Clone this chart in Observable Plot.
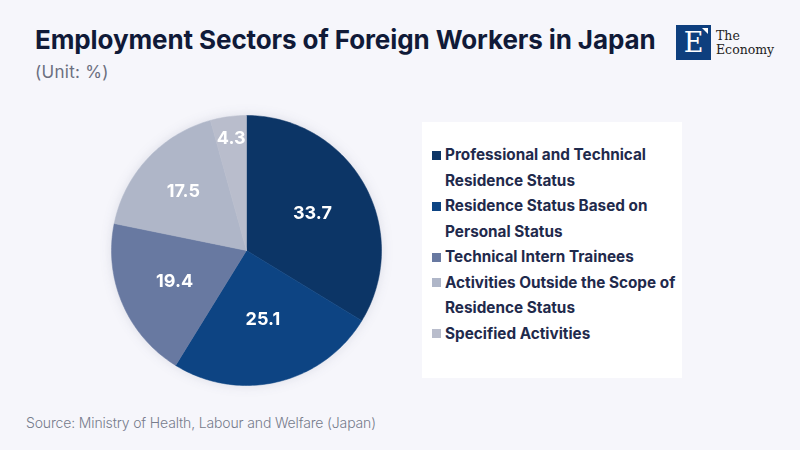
<!DOCTYPE html>
<html>
<head>
<meta charset="utf-8">
<script src="https://cdn.jsdelivr.net/npm/d3@7"></script>
<script src="https://cdn.jsdelivr.net/npm/@observablehq/plot@0.6"></script>
<style>
  html, body { margin: 0; padding: 0; }
  body { width: 800px; height: 450px; background: #f6f6fb; font-family: Inter, "Noto Sans", sans-serif; position: relative; overflow: hidden; }
  #title { position: absolute; left: 35px; top: 24px; font-size: 26px; font-weight: 700; color: #101a38; letter-spacing: -0.1px; white-space: nowrap; }
  #subtitle { position: absolute; left: 35px; top: 62px; font-size: 17px; color: #6b6f80; letter-spacing: 0.3px; }
  #source { position: absolute; left: 26px; top: 414px; font-size: 14px; color: #777c8c; font-weight: 300; letter-spacing: -0.15px; }
  #chart { position: absolute; left: 95.5px; top: 99.5px; filter: drop-shadow(0 0 6px rgba(40,50,90,0.12)); }
  #legend { position: absolute; left: 422px; top: 122px; width: 260px; height: 256px; background: #ffffff; box-sizing: border-box; padding: 20px 0 0 10px; }
  .item { display: flex; align-items: flex-start; font-size: 15.3px; font-weight: 700; color: #1f2a4c; line-height: 25.5px; white-space: nowrap; }
  .sw { width: 9px; height: 9px; margin: 8.5px 4px 0 0; flex: none; }
  #logo { position: absolute; left: 676px; top: 25px; width: 35px; height: 35px; background: #0e3f7e; color: #fff; font-family: "DejaVu Serif", serif; font-size: 27px; text-align: center; line-height: 36px; }
  #logo::after { content: ""; position: absolute; right: 3px; top: 3px; width: 0; height: 0; border-left: 6px solid transparent; border-top: 6px solid #fff; }
  #logotext { position: absolute; left: 716px; top: 29px; font-family: "DejaVu Serif", "Liberation Serif", serif; font-size: 12.5px; line-height: 13.5px; color: #222; }
</style>
</head>
<body>
<div id="title">Employment Sectors of Foreign Workers in Japan</div>
<div id="subtitle">(Unit: %)</div>
<div id="logo">E</div>
<div id="logotext">The<br>Economy</div>
<div id="chart"></div>
<div id="legend"></div>
<div id="source">Source: Ministry of Health, Labour and Welfare (Japan)</div>
<script>
const categories = [
  "Professional and Technical Residence Status",
  "Residence Status Based on Personal Status",
  "Technical Intern Trainees",
  "Activities Outside the Scope of Residence Status",
  "Specified Activities"
];
const legendLabels = [
  ["Professional and Technical", "Residence Status"],
  ["Residence Status Based on", "Personal Status"],
  ["Technical Intern Trainees"],
  ["Activities Outside the Scope of", "Residence Status"],
  ["Specified Activities"]
];
const values = [33.7, 25.1, 19.4, 17.5, 4.3];
const colors = ["#0c3566", "#0d4483", "#6879a1", "#afb6c8", "#b9bdcc"];
// label distance from centre (fraction of radius), a layout setting
const labelRadius = [0.56, 0.52, 0.58, 0.64, 0.84];

const arcs = d3.pie().sort(null).value(d => d)(values);
const slices = [];
arcs.forEach((a, i) => {
  const n = Math.max(2, Math.ceil((a.endAngle - a.startAngle) / 0.02));
  slices.push({cat: categories[i], x: 0, y: 0});
  for (let k = 0; k <= n; k++) {
    const t = a.startAngle + (a.endAngle - a.startAngle) * k / n;
    slices.push({cat: categories[i], x: Math.sin(t), y: Math.cos(t)});
  }
  slices.push({cat: categories[i], x: 0, y: 0});
});
const labels = arcs.map((a, i) => {
  const m = (a.startAngle + a.endAngle) / 2;
  const r = labelRadius[i];
  return {x: r * Math.sin(m), y: r * Math.cos(m), text: values[i].toFixed(1)};
});

const plot = Plot.plot({
  width: 300, height: 300, margin: 15,
  x: {domain: [-1, 1], axis: null},
  y: {domain: [-1, 1], axis: null},
  color: {domain: categories, range: colors},
  style: {background: "transparent", overflow: "visible"},
  marks: [
    Plot.line(slices, {x: "x", y: "y", z: "cat", fill: "cat", stroke: "cat", strokeWidth: 0.5, curve: "linear"}),
    Plot.text(labels, {x: "x", y: "y", text: "text", fill: "white", fontSize: 18, fontWeight: 700, fontFamily: "Inter, sans-serif"})
  ]
});
document.getElementById("chart").appendChild(plot);

const leg = document.getElementById("legend");
legendLabels.forEach((lines, i) => {
  const div = document.createElement("div");
  div.className = "item";
  div.innerHTML = `<span class="sw" style="background:${colors[i]}"></span><span>${lines.join("<br>")}</span>`;
  leg.appendChild(div);
});
</script>
</body>
</html>
